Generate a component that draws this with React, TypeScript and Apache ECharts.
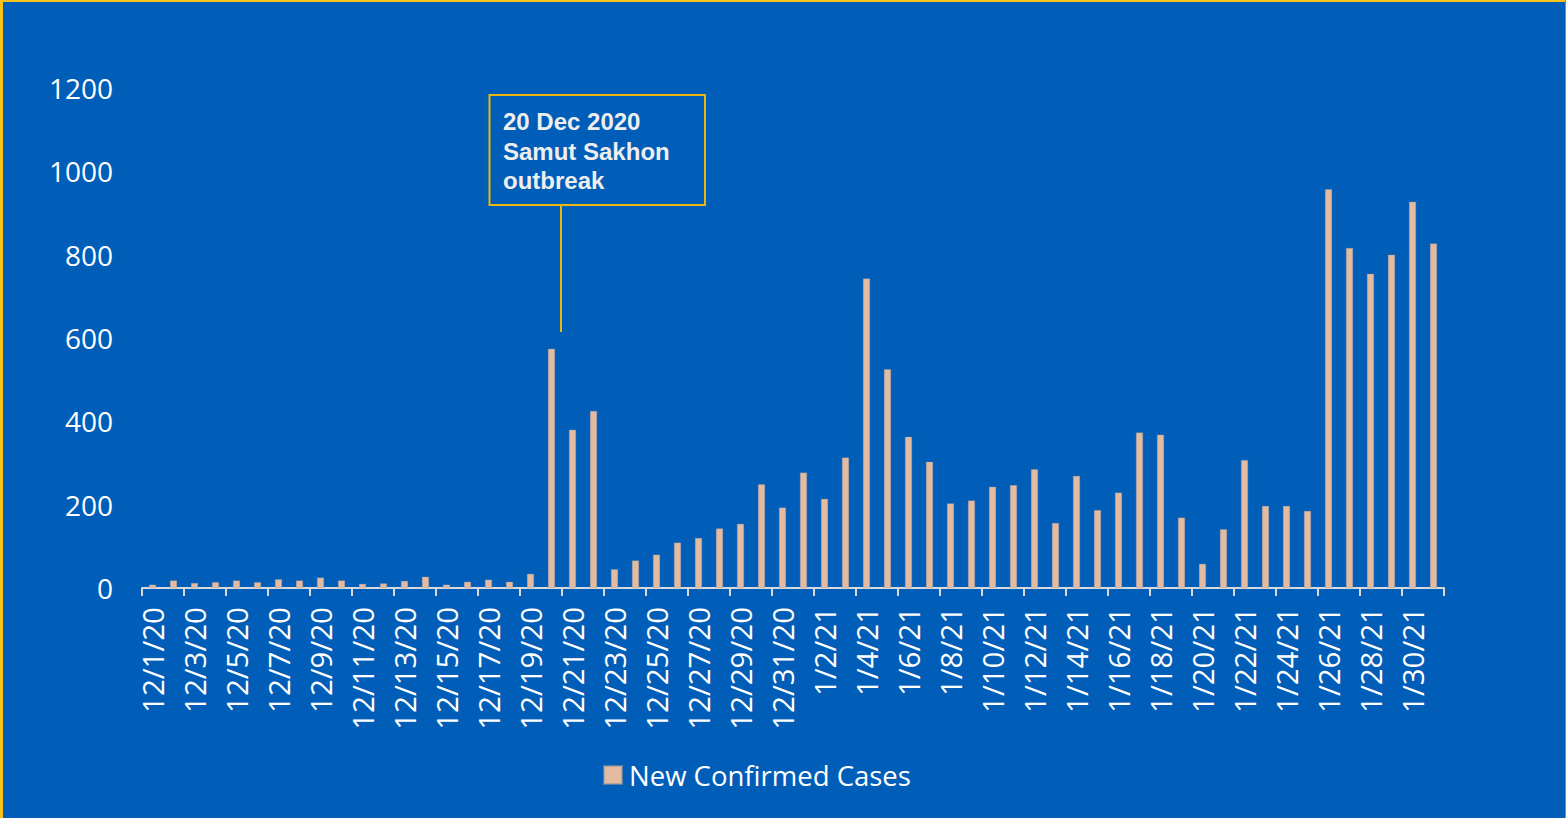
import React, { useEffect, useRef } from "react";
import * as echarts from "echarts";

const categories: string[] = [
  "12/1/20", "12/2/20", "12/3/20", "12/4/20", "12/5/20", "12/6/20", "12/7/20", "12/8/20",
  "12/9/20", "12/10/20", "12/11/20", "12/12/20", "12/13/20", "12/14/20", "12/15/20", "12/16/20",
  "12/17/20", "12/18/20", "12/19/20", "12/20/20", "12/21/20", "12/22/20", "12/23/20", "12/24/20",
  "12/25/20", "12/26/20", "12/27/20", "12/28/20", "12/29/20", "12/30/20", "12/31/20",
  "1/1/21", "1/2/21", "1/3/21", "1/4/21", "1/5/21", "1/6/21", "1/7/21", "1/8/21",
  "1/9/21", "1/10/21", "1/11/21", "1/12/21", "1/13/21", "1/14/21", "1/15/21", "1/16/21",
  "1/17/21", "1/18/21", "1/19/21", "1/20/21", "1/21/21", "1/22/21", "1/23/21", "1/24/21",
  "1/25/21", "1/26/21", "1/27/21", "1/28/21", "1/29/21", "1/30/21", "1/31/21",
];

const decemberCases: number[] = [
  8, 18, 12, 14, 18, 14, 21, 18, 25, 18, 10, 11, 17, 27, 8, 15, 20, 15, 34,
  574, 380, 425, 45, 66, 80, 109, 120, 143, 154, 249, 193,
];

const januaryCases: number[] = [
  277, 214, 313, 743, 525, 363, 303, 203, 210, 243, 247, 285, 156, 269, 187, 229,
  373, 368, 169, 58, 141, 307, 197, 197, 185, 957, 816, 754, 800, 927, 827,
];

const newConfirmedCases: number[] = [...decemberCases, ...januaryCases];

const seriesName = "New Confirmed Cases";
const annotationLines: string[] = ["20 Dec 2020", "Samut Sakhon", "outbreak"];

const BG = "#005EB8";
const BAR = "#E3BBA0";
const GOLD = "#EBB70F";
const FONT = "'Open Sans', 'Liberation Sans', sans-serif";

export default function App() {
  const ref = useRef<HTMLDivElement>(null);

  useEffect(() => {
    if (!ref.current) return;
    const chart = echarts.init(ref.current, undefined, { renderer: "svg" });
    chart.setOption({
      animation: false,
      backgroundColor: BG,
      grid: { left: 142, right: 122, top: 88, bottom: 230, containLabel: false },
      legend: {
        data: [seriesName],
        left: 603,
        top: 761,
        padding: 0,
        icon: "rect",
        itemWidth: 18,
        itemHeight: 18,
        textStyle: {
          color: "#FFFFFF",
          fontSize: 27.5,
          fontFamily: FONT,
          padding: [0, 0, 0, 2],
        },
      },
      xAxis: {
        type: "category",
        data: categories,
        boundaryGap: true,
        axisLine: { show: true, lineStyle: { color: "#D9D9D9", width: 2 } },
        axisTick: {
          show: true,
          interval: 1,
          length: 8,
          lineStyle: { color: "#D9D9D9", width: 2 },
        },
        axisLabel: {
          interval: 1,
          rotate: 90,
          margin: 19,
          color: "#FFFFFF",
          fontSize: 29.5,
          fontFamily: FONT,
        },
        splitLine: { show: false },
      },
      yAxis: {
        type: "value",
        min: 0,
        max: 1200,
        interval: 200,
        axisLine: { show: false },
        axisTick: { show: false },
        splitLine: { show: false },
        axisLabel: {
          margin: 29,
          color: "#FFFFFF",
          fontSize: 28,
          fontFamily: FONT,
          formatter: (v: number) => String(v),
        },
      },
      series: [
        {
          name: seriesName,
          type: "bar",
          data: newConfirmedCases,
          barWidth: 7,
          itemStyle: {
            color: BAR,
            borderColor: "rgba(150,150,160,0.6)",
            borderWidth: 0.5,
          },
        },
      ],
      graphic: [
        {
          type: "rect",
          shape: { x: 0, y: 0, width: 1566, height: 2 },
          style: { fill: "#F7C219" },
          silent: true,
        },
        {
          type: "rect",
          shape: { x: 0, y: 0, width: 3, height: 818 },
          style: { fill: "#F7C219" },
          silent: true,
        },
        {
          type: "rect",
          shape: { x: 1565, y: 0, width: 1, height: 818 },
          style: { fill: "#6E9A86" },
          silent: true,
        },
        {
          type: "rect",
          shape: { x: 489.5, y: 95, width: 215.5, height: 110 },
          style: { fill: "none", stroke: GOLD, lineWidth: 2 },
          silent: true,
        },
        {
          type: "line",
          shape: { x1: 561, y1: 205, x2: 561, y2: 332 },
          style: { stroke: GOLD, lineWidth: 2 },
          silent: true,
        },
        {
          type: "text",
          x: 503,
          y: 107,
          style: {
            text: annotationLines.join("\n"),
            fill: "#EEEEEE",
            font: "bold 24px 'Liberation Sans', Arial, sans-serif",
            lineHeight: 29.5,
            verticalAlign: "top",
            align: "left",
          },
          silent: true,
        },
      ],
    });
    return () => chart.dispose();
  }, []);

  return (
    <div
      ref={ref}
      style={{ position: "fixed", left: 0, top: 0, width: 1566, height: 818 }}
    />
  );
}
